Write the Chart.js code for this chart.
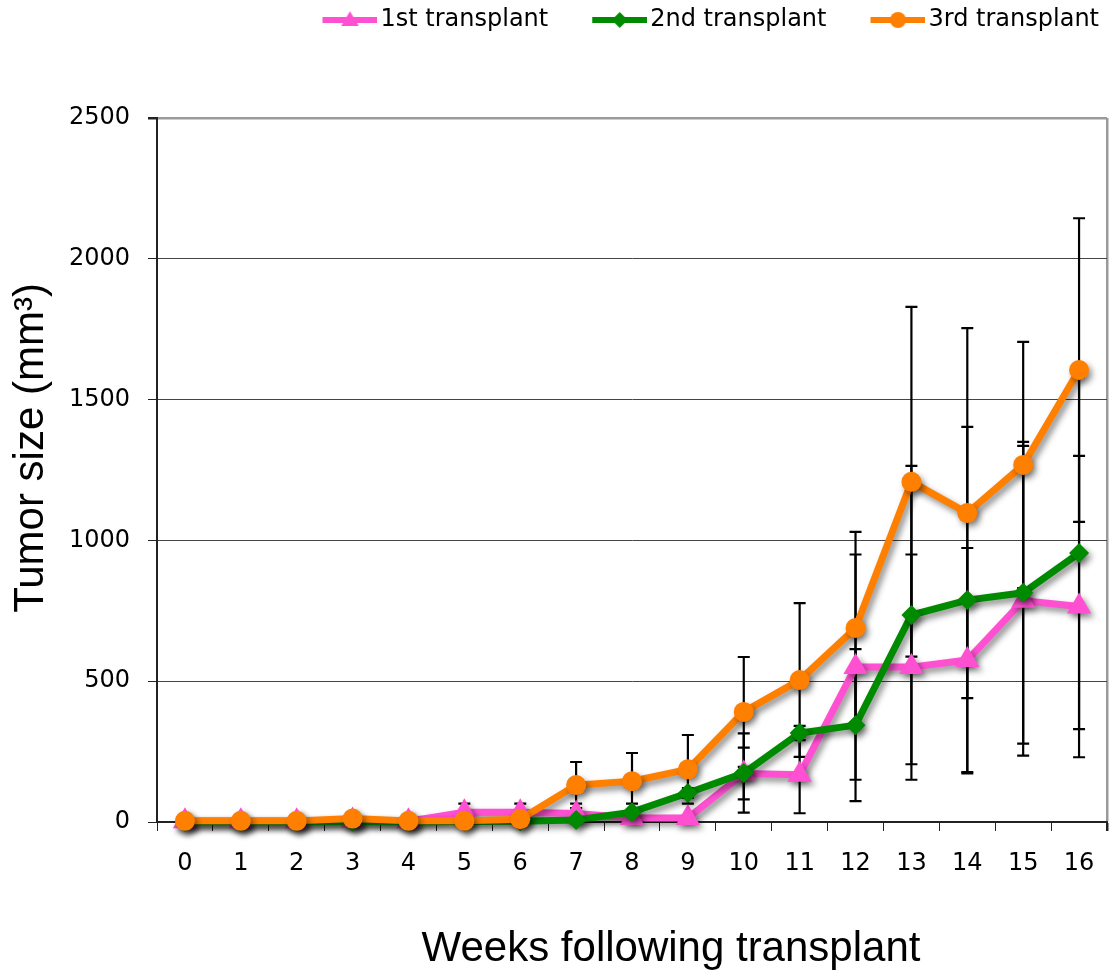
<!DOCTYPE html>
<html>
<head>
<meta charset="utf-8">
<script src="https://cdn.jsdelivr.net/npm/chart.js@4.4.0/dist/chart.umd.min.js"></script>
<style>
html,body{margin:0;padding:0;background:#fff;}
#wrap{width:1109px;height:973px;position:relative;}
canvas{display:block;}
</style>
</head>
<body>
<div id="wrap"><canvas id="c" width="1109" height="973"></canvas></div>
<script>
// ---- data ----
const weeks = ['0','1','2','3','4','5','6','7','8','9','10','11','12','13','14','15','16'];
const yTicks = [0, 500, 1000, 1500, 2000, 2500];
const seriesNames = ['1st transplant', '2nd transplant', '3rd transplant'];

const first    = [3, 3, 3, 5, 3, 35, 35, 30, 14, 14, 172, 168, 550, 550, 575, 786, 765];
const firstErr = [0, 0, 0, 0, 0, 30, 30, 35, 10, 10, 92, 137, 400, 400, 398, 550, 535];

const second    = [1, 1, 1, 2, 1, 2, 3, 7, 35, 103, 174, 316, 344, 735, 788, 814, 955];
const secondErr = [0, 0, 0, 0, 0, 0, 0, 5, 30, 17, 141, 25, 270, 530, 615, 536, 625];

const third    = [4, 4, 4, 12, 4, 4, 10, 131, 145, 187, 391, 504, 689, 1208, 1097, 1268, 1605];
const thirdErr = [0, 0, 0, 0, 0, 0, 0, 82, 100, 122, 195, 273, 341, 621, 657, 437, 539];

const xTitle = 'Weeks following transplant';
const yTitle = 'Tumor size (mm³)';

// ---- styles ----
const colors = ['#ff50d2', '#008a00', '#ff7f00'];
const styles = ['triangle', 'rectRot', 'circle'];
const seriesData = [first, second, third];
const seriesErr = [firstErr, secondErr, thirdErr];

function makeIcon(color, style) {
  const c = document.createElement('canvas');
  c.width = 100; c.height = 24;
  const g = c.getContext('2d');
  g.strokeStyle = color; g.fillStyle = color; g.lineWidth = 6;
  g.beginPath(); g.moveTo(45, 12); g.lineTo(100, 12); g.stroke();
  const cx = 72.5, cy = 12, r = 8;
  g.beginPath();
  if (style === 'circle') {
    g.arc(cx, cy, r, 0, Math.PI * 2);
  } else if (style === 'rectRot') {
    g.moveTo(cx, cy - r); g.lineTo(cx + r, cy); g.lineTo(cx, cy + r); g.lineTo(cx - r, cy); g.closePath();
  } else {
    g.moveTo(cx, cy - r * 1.1); g.lineTo(cx + r * 1.1, cy + r * 0.75); g.lineTo(cx - r * 1.1, cy + r * 0.75); g.closePath();
  }
  g.fill();
  return c;
}
const legendIcons = colors.map((c, i) => makeIcon(c, styles[i]));

const errorBars = {
  id: 'errorBars',
  beforeDatasetsDraw(chart) {
    const { ctx } = chart;
    const xs = chart.scales.x, ys = chart.scales.y;
    ctx.save();
    ctx.strokeStyle = '#000';
    ctx.lineWidth = 2.2;
    seriesData.forEach((arr, si) => {
      const errs = seriesErr[si];
      arr.forEach((v, i) => {
        const e = errs[i];
        if (!e) return;
        const px = xs.getPixelForValue(i);
        const yt = ys.getPixelForValue(v + e);
        const yb = ys.getPixelForValue(v - e);
        ctx.beginPath();
        ctx.moveTo(px, yt); ctx.lineTo(px, yb);
        ctx.moveTo(px - 6, yt); ctx.lineTo(px + 6, yt);
        ctx.moveTo(px - 6, yb); ctx.lineTo(px + 6, yb);
        ctx.stroke();
      });
    });
    ctx.restore();
  }
};

const shadow = {
  id: 'shadow',
  beforeDatasetDraw(chart) {
    const ctx = chart.ctx;
    ctx.save();
    ctx.shadowColor = 'rgba(0,0,0,0.45)';
    ctx.shadowBlur = 6;
    ctx.shadowOffsetX = 3;
    ctx.shadowOffsetY = 4;
  },
  afterDatasetDraw(chart) {
    chart.ctx.restore();
  }
};

const legendBand = {
  id: 'legendBand',
  beforeLayout(chart) {
    const lg = chart.legend;
    if (lg && !lg.__patched) {
      const f = lg.fit;
      lg.fit = function () { f.call(this); this.height = 118; };
      lg.__patched = true;
    }
  }
};

const axisTitles = {
  id: 'axisTitles',
  afterDraw(chart) {
    const { ctx, chartArea } = chart;
    ctx.save();
    ctx.fillStyle = '#000';
    ctx.font = '42px "Liberation Sans", Arial, sans-serif';
    ctx.textAlign = 'center';
    ctx.textBaseline = 'alphabetic';
    ctx.fillText(xTitle, (chartArea.left + chartArea.right) / 2 + 39, chartArea.bottom + 139);
    ctx.translate(chartArea.left - 114, (chartArea.top + chartArea.bottom) / 2 - 22);
    ctx.rotate(-Math.PI / 2);
    ctx.fillText(yTitle, 0, 0);
    ctx.restore();
  }
};

const tickFont = { family: '"DejaVu Sans", Verdana, sans-serif', size: 24 };

const datasets = seriesNames.map((name, i) => ({
  label: name,
  data: seriesData[i],
  borderColor: colors[i],
  backgroundColor: colors[i],
  pointBackgroundColor: colors[i],
  pointBorderColor: colors[i],
  pointBorderWidth: 0,
  pointStyle: styles[i],
  pointRadius: [14, 10, 10][i],
  borderWidth: 7,
  tension: 0,
  clip: false,
  order: 2 - i
}));

new Chart(document.getElementById('c'), {
  type: 'line',
  data: { labels: weeks, datasets },
  plugins: [legendBand, errorBars, shadow, axisTitles],
  options: {
    responsive: false,
    animation: false,
    devicePixelRatio: 1,
    layout: { autoPadding: false, padding: { left: 0, right: 2, top: 0, bottom: 0 } },
    plugins: {
      tooltip: { enabled: false },
      legend: {
        position: 'top',
        align: 'end',
        labels: {
          usePointStyle: true,
          pointStyleWidth: 82,
          padding: 8,
          color: '#000',
          font: tickFont,
          sort: (a, b) => a.datasetIndex - b.datasetIndex,
          generateLabels(chart) {
            const items = Chart.defaults.plugins.legend.labels.generateLabels(chart);
            items.forEach(it => { it.pointStyle = legendIcons[it.datasetIndex]; });
            return items;
          }
        }
      }
    },
    scales: {
      x: {
        type: 'category',
        offset: true,
        afterFit: s => { s.height = 151; s.paddingLeft = 0; s.paddingRight = 0; },
        border: { display: true, color: '#222', width: 2 },
        grid: {
          offset: true,
          drawOnChartArea: true,
          color: c => c.tick ? 'rgba(0,0,0,0)' : '#9a9a9a',
          lineWidth: c => c.tick ? 1 : 2.5,
          tickLength: 9,
          tickColor: '#222'
        },
        ticks: { padding: 18, font: tickFont, color: '#000', maxRotation: 0, autoSkip: false }
      },
      y: {
        min: 0,
        max: 2500,
        afterBuildTicks: s => { s.ticks = yTicks.map(v => ({ value: v })); },
        afterFit: s => { s.width = 157; },
        border: { display: true, color: '#222', width: 2 },
        grid: {
          color: c => (c.tick && c.tick.value === 2500) ? '#9a9a9a' : '#444',
          lineWidth: c => (c.tick && c.tick.value === 2500) ? 2.5 : 1,
          tickLength: 9,
          tickColor: '#222'
        },
        ticks: { padding: 18, font: tickFont, color: '#000', callback: v => String(v) }
      }
    }
  }
});
</script>
</body>
</html>
